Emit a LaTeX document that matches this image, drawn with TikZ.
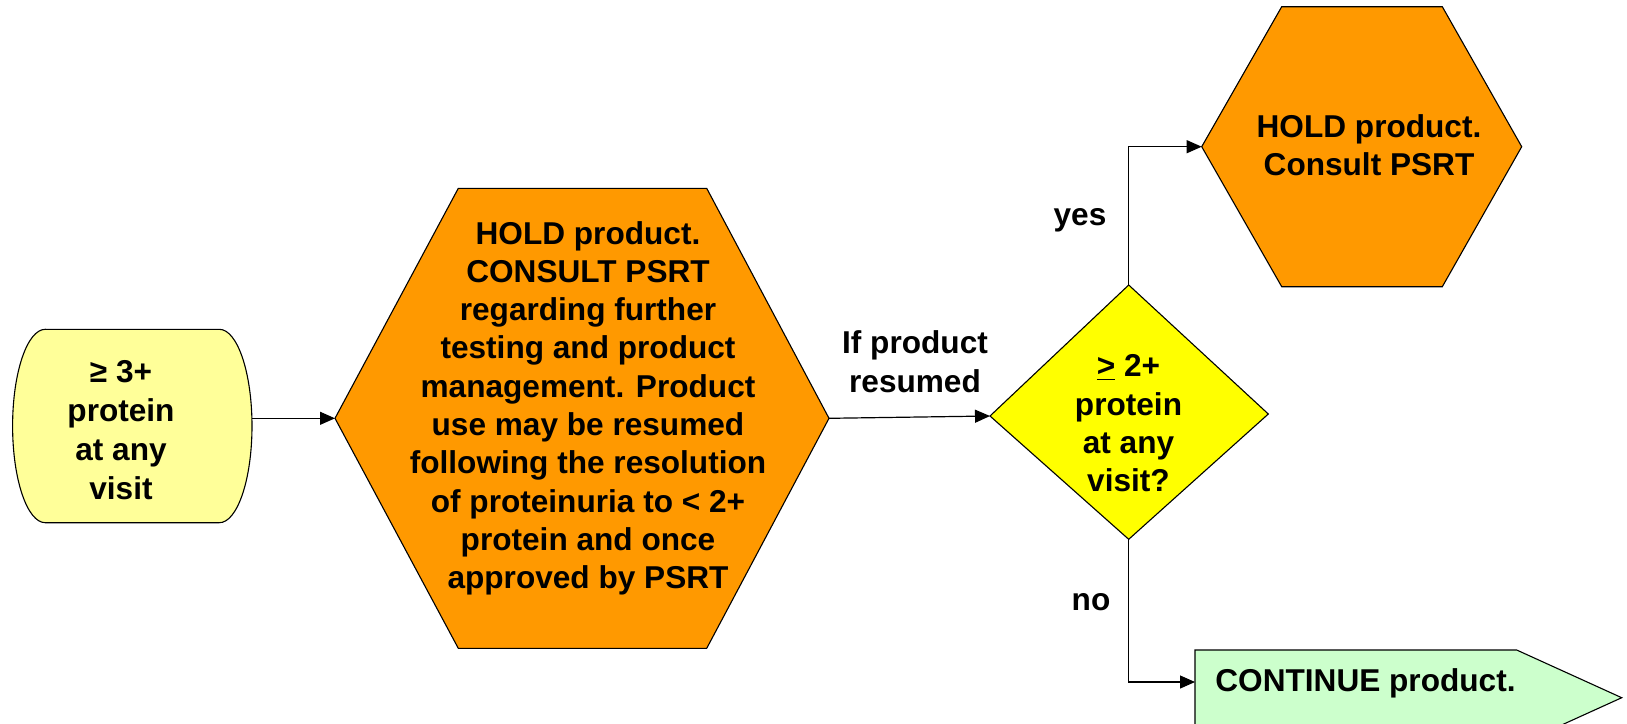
\documentclass[tikz,border=0pt]{standalone}
\usepackage{fontspec}
\setmainfont{Liberation Sans}
\usetikzlibrary{arrows.meta}
\definecolor{paleyellow}{HTML}{FFFF99}
\definecolor{holdorange}{HTML}{FF9900}
\definecolor{decisionyellow}{HTML}{FFFF00}
\definecolor{palegreen}{HTML}{CCFFCC}
\begin{document}
\begin{tikzpicture}[x=0.5pt,y=-0.5pt,
  shapeline/.style={draw=black,line width=0.55pt,line join=miter},
  txt/.style={font=\fontsize{15.8}{19.4}\selectfont\bfseries,align=center,inner sep=0pt},
  tighttxt/.style={txt,font=\fontsize{15.8}{19.15}\selectfont\bfseries},
  flow/.style={draw=black,line width=0.6pt,-{Triangle[length=7.5pt,width=6.5pt]}}]
\useasboundingbox (0,0) rectangle (1627,723);
\clip (0,0) rectangle (1627,723);

% start: box with bulging sides
\draw[shapeline,fill=paleyellow] (45.3,329.3) -- (219.3,329.3)
  arc[start angle=90,end angle=-90,x radius=16.35pt,y radius=48.35pt]
  -- (45.3,522.7)
  arc[start angle=270,end angle=90,x radius=16.35pt,y radius=48.35pt] -- cycle;
\coordinate (sout) at (252,418.3);
\node[txt] (start) at (121,430) {≥ 3+\\protein\\at any\\visit};

% first hold hexagon
\coordinate (h1l) at (335,418.3);
\coordinate (h1r) at (829,418.3);
\draw[shapeline,fill=holdorange] (h1l) -- (458.3,188.3) -- (706.7,188.3)
  -- (h1r) -- (706.7,648.3) -- (458.3,648.3) -- cycle;
\node[tighttxt] (hold1) at (588,408.2)
  {HOLD product.\\CONSULT PSRT\\regarding further\\testing and product\\management. Product\\use may be resumed\\following the resolution\\of proteinuria to < 2+\\protein and once\\approved by PSRT};

% decision diamond
\coordinate (dt) at (1128.7,285);
\coordinate (dr) at (1268.3,414);
\coordinate (db) at (1128.7,539.3);
\coordinate (dl) at (990,416);
\draw[shapeline,fill=decisionyellow] (dt) -- (dr) -- (db) -- (dl) -- cycle;
\node[tighttxt] (decide) at (1128.5,423.3)
  {\underline{>} 2+\\protein\\at any\\visit?};

% second hold hexagon
\coordinate (h2l) at (1201.7,146.7);
\draw[shapeline,fill=holdorange] (h2l) -- (1281.7,6.7) -- (1442.3,6.7)
  -- (1521.7,146.7) -- (1442.3,286.7) -- (1281.7,286.7) -- cycle;
\node[txt] (hold2) at (1369,145.3) {HOLD product.\\Consult PSRT};

% continue: pointed banner
\coordinate (cin) at (1195,682);
\draw[shapeline,fill=palegreen] (1195,650) -- (1516.7,650) -- (1621.7,697.7)
  -- (1516.7,745.4) -- (1195,745.4) -- cycle;
\node[txt,anchor=base west] (cont) at (1215,691.7) {CONTINUE product.};

% connectors
\draw[flow] (sout) -- (h1l);
\draw[flow] (h1r) -- (dl);
\draw[flow] (dt) |- (h2l);
\draw[flow] (db) |- (cin);

% connector labels
\node[txt] (resumed) at (915,362) {If product\\resumed};
\node[txt,anchor=base] (yes) at (1080,225) {yes};
\node[txt,anchor=base] (no) at (1091,610) {no};
\end{tikzpicture}
\end{document}
